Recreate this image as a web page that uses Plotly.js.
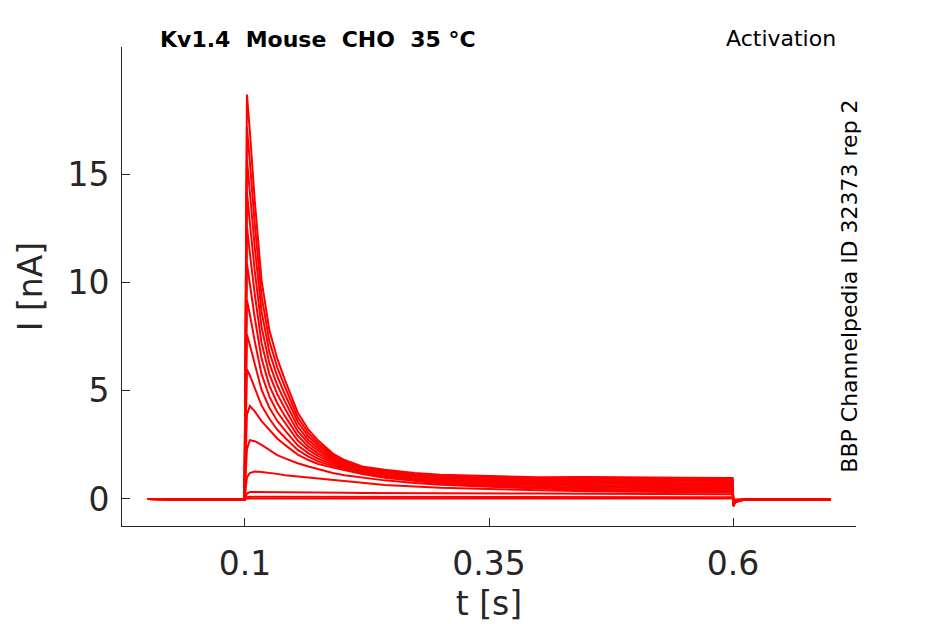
<!DOCTYPE html>
<html>
<head>
<meta charset="utf-8">
<script src="https://cdn.plot.ly/plotly-3.0.1.min.js"></script>
<style>
  html, body { margin: 0; padding: 0; background: #ffffff; }
  #grafico { width: 945px; height: 624px; }
</style>
</head>
<body>
<div id="grafico"></div>
<script>
// tiempo de muestreo [s]
const tiempo = [0, 0.05, 0.0995, 0.1005, 0.102, 0.105, 0.11, 0.117, 0.125, 0.133, 0.141,
  0.154, 0.165, 0.175, 0.19, 0.202, 0.22, 0.243, 0.274, 0.3, 0.35, 0.4, 0.45, 0.5, 0.55,
  0.5995, 0.6005, 0.602, 0.61, 0.64, 0.7];

// corriente de cada barrido [nA]
const barrido01 = [0, -0.03, -0.02, 9.0, 18.7, 17.0, 13.8, 10.1, 7.8, 6.5, 5.5, 4.0, 3.2, 2.7, 2.1, 1.8, 1.5, 1.35, 1.2, 1.12, 1.05, 1.0, 1.02, 0.99, 0.98, 0.97, -0.35, -0.15, -0.05, -0.02, -0.01];
const barrido02 = [0, -0.03, -0.02, 8.5, 17.2, 15.59, 12.72, 9.38, 7.29, 6.09, 5.17, 3.78, 3.04, 2.58, 2.03, 1.75, 1.46, 1.31, 1.16, 1.08, 1.0, 0.95, 0.94, 0.93, 0.92, 0.91, -0.33, -0.14, -0.05, -0.02, -0.01];
const barrido03 = [0, -0.03, -0.02, 7.8, 15.7, 14.18, 11.64, 8.66, 6.78, 5.68, 4.83, 3.57, 2.89, 2.46, 1.96, 1.70, 1.42, 1.27, 1.12, 1.03, 0.95, 0.89, 0.88, 0.87, 0.86, 0.84, -0.32, -0.14, -0.05, -0.02, -0.01];
const barrido04 = [0, -0.03, -0.02, 7.0, 14.2, 12.77, 10.55, 7.94, 6.27, 5.27, 4.5, 3.35, 2.73, 2.34, 1.88, 1.64, 1.38, 1.23, 1.07, 0.99, 0.9, 0.84, 0.82, 0.81, 0.79, 0.78, -0.31, -0.13, -0.05, -0.02, -0.01];
const barrido05 = [0, -0.03, -0.02, 6.3, 12.6, 11.36, 9.47, 7.21, 5.76, 4.86, 4.17, 3.13, 2.58, 2.22, 1.81, 1.59, 1.34, 1.19, 1.03, 0.94, 0.85, 0.79, 0.76, 0.75, 0.73, 0.72, -0.3, -0.13, -0.05, -0.02, -0.01];
const barrido06 = [0, -0.03, -0.02, 5.4, 10.9, 9.94, 8.38, 6.49, 5.24, 4.44, 3.83, 2.92, 2.42, 2.1, 1.74, 1.54, 1.31, 1.14, 0.99, 0.9, 0.8, 0.73, 0.71, 0.68, 0.67, 0.65, -0.29, -0.12, -0.05, -0.02, -0.01];
const barrido07 = [0, -0.03, -0.02, 4.6, 9.2, 8.53, 7.3, 5.77, 4.73, 4.03, 3.5, 2.7, 2.27, 1.98, 1.67, 1.49, 1.27, 1.1, 0.95, 0.85, 0.75, 0.68, 0.65, 0.62, 0.61, 0.59, -0.28, -0.12, -0.04, -0.02, -0.01];
const barrido08 = [0, -0.03, -0.02, 3.8, 7.6, 7.12, 6.21, 5.04, 4.22, 3.62, 3.17, 2.48, 2.11, 1.86, 1.59, 1.43, 1.23, 1.06, 0.9, 0.81, 0.7, 0.63, 0.59, 0.56, 0.54, 0.53, -0.27, -0.11, -0.04, -0.02, -0.01];
const barrido09 = [0, -0.03, -0.02, 3.0, 6.0, 5.71, 5.13, 4.32, 3.71, 3.21, 2.83, 2.27, 1.96, 1.74, 1.52, 1.38, 1.19, 1.02, 0.86, 0.76, 0.65, 0.57, 0.53, 0.5, 0.48, 0.46, -0.26, -0.11, -0.04, -0.02, -0.01];
const barrido10 = [0, -0.03, -0.02, 1.8, 3.9, 4.3, 4.05, 3.6, 3.2, 2.8, 2.5, 2.05, 1.8, 1.62, 1.45, 1.33, 1.15, 0.98, 0.82, 0.72, 0.6, 0.52, 0.47, 0.44, 0.42, 0.4, -0.25, -0.1, -0.04, -0.02, -0.01];
const barrido11 = [0, -0.03, -0.02, 1.0, 2.3, 2.72, 2.67, 2.5, 2.28, 2.03, 1.88, 1.65, 1.5, 1.37, 1.2, 1.1, 0.98, 0.86, 0.74, 0.66, 0.56, 0.48, 0.42, 0.38, 0.35, 0.33, -0.22, -0.1, -0.04, -0.02, -0.01];
const barrido12 = [0, -0.03, -0.02, 0.5, 1.0, 1.2, 1.27, 1.25, 1.22, 1.16, 1.1, 1.04, 1.0, 0.95, 0.88, 0.8, 0.75, 0.65, 0.58, 0.52, 0.46, 0.4, 0.36, 0.33, 0.31, 0.3, -0.2, -0.09, -0.03, -0.02, -0.01];
const barrido13 = [0, -0.03, -0.02, 0.1, 0.25, 0.32, 0.32, 0.32, 0.31, 0.31, 0.3, 0.3, 0.3, 0.29, 0.29, 0.29, 0.28, 0.28, 0.27, 0.27, 0.26, 0.25, 0.24, 0.23, 0.22, 0.22, -0.15, -0.07, -0.03, -0.02, -0.01];
const barrido14 = [0, -0.03, -0.02, 0.04, 0.08, 0.1, 0.1, 0.1, 0.1, 0.1, 0.1, 0.1, 0.1, 0.1, 0.1, 0.09, 0.09, 0.09, 0.09, 0.09, 0.09, 0.08, 0.08, 0.08, 0.08, 0.08, -0.1, -0.05, -0.03, -0.02, -0.01];
const barrido15 = [0, -0.03, -0.02, 0.01, 0.02, 0.02, 0.02, 0.02, 0.02, 0.02, 0.02, 0.02, 0.02, 0.02, 0.02, 0.02, 0.02, 0.02, 0.02, 0.02, 0.02, 0.02, 0.02, 0.02, 0.02, 0.02, -0.05, -0.03, -0.02, -0.01, -0.01];

const barridos = [barrido01, barrido02, barrido03, barrido04, barrido05, barrido06, barrido07,
  barrido08, barrido09, barrido10, barrido11, barrido12, barrido13, barrido14, barrido15];

const ticksX = [0.1, 0.35, 0.6];
const etiquetasX = ['0.1', '0.35', '0.6'];
const ticksY = [0, 5, 10, 15];
const etiquetasY = ['0', '5', '10', '15'];

const fuente = 'DejaVu Sans, sans-serif';
const gris = '#262626';

const trazas = barridos.map(corriente => ({
  x: tiempo,
  y: corriente,
  mode: 'lines',
  line: { color: '#ff0000', width: 2 },
  hoverinfo: 'skip'
}));

const layout = {
  width: 945,
  height: 624,
  showlegend: false,
  plot_bgcolor: '#ffffff',
  paper_bgcolor: '#ffffff',
  margin: { l: 122, r: 89, t: 47, b: 98 },
  xaxis: {
    range: [-0.026, 0.726],
    tickvals: ticksX,
    ticktext: etiquetasX,
    ticks: 'inside',
    ticklen: 8,
    tickcolor: gris,
    showline: true,
    linecolor: gris,
    linewidth: 1,
    showgrid: false,
    zeroline: false,
    ticklabelstandoff: 8,
    tickfont: { family: fuente, size: 33, color: gris },
    title: { text: 't [s]', font: { family: fuente, size: 33, color: gris }, standoff: 10 }
  },
  yaxis: {
    range: [-1.25, 20.9],
    tickvals: ticksY,
    ticktext: etiquetasY,
    ticks: 'inside',
    ticklen: 8,
    tickcolor: gris,
    showline: true,
    linecolor: gris,
    linewidth: 1,
    showgrid: false,
    zeroline: false,
    ticklabelstandoff: 5,
    tickfont: { family: fuente, size: 33, color: gris },
    title: { text: 'I [nA]', font: { family: fuente, size: 33, color: gris }, standoff: 14 }
  },
  annotations: [
    {
      text: '<b>Kv1.4  Mouse  CHO  35 °C</b>',
      xref: 'paper', yref: 'paper', x: 0.049, y: 1.016,
      xanchor: 'left', yanchor: 'middle', showarrow: false,
      font: { family: fuente, size: 22, color: '#000000' }
    },
    {
      text: 'Activation',
      xref: 'paper', yref: 'paper', x: 0.975, y: 1.018,
      xanchor: 'right', yanchor: 'middle', showarrow: false,
      font: { family: fuente, size: 22, color: '#000000' }
    },
    {
      text: 'BBP Channelpedia ID 32373 rep 2',
      xref: 'paper', yref: 'paper', x: 0.99, y: 0.501,
      xanchor: 'center', yanchor: 'middle', showarrow: false,
      textangle: -90,
      font: { family: fuente, size: 22, color: '#000000' }
    }
  ]
};

Plotly.newPlot('grafico', trazas, layout, { displayModeBar: false, staticPlot: true });
</script>
</body>
</html>
